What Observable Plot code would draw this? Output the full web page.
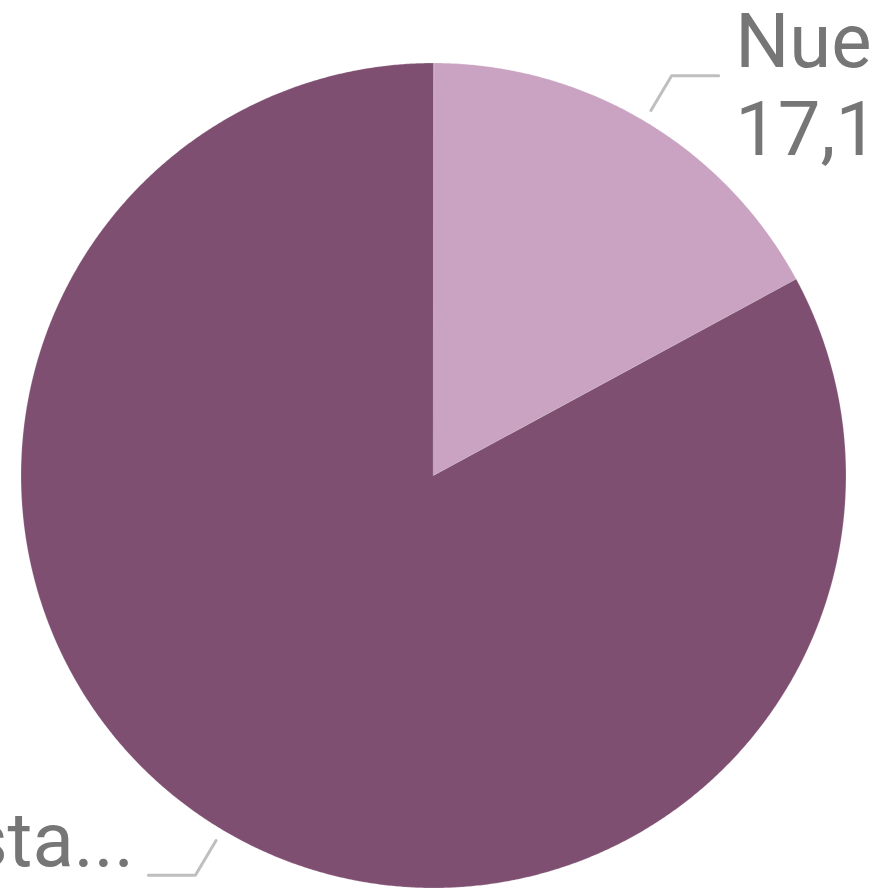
<!DOCTYPE html>
<html><head><meta charset="utf-8">
<script src="https://cdn.jsdelivr.net/npm/d3@7"></script>
<script src="https://cdn.jsdelivr.net/npm/@observablehq/plot@0.6"></script>
<style>html,body{margin:0;padding:0;background:#fff;overflow:hidden}</style>
</head><body><div id="chart"></div>
<script>
// Data
const categories = ["Nuevos", "Existentes en lista..."];
const values = [17.1, 82.9];
const valueLabels = ["17,1", "82,9"];
const colors = ["#C9A3C1", "#7E4F71"];

// Layout
const W = 870, H = 892;
const R = 412.5, CX = 433, CY = 475;

const pie = d3.pie().sort(null).value(d => d.value);
const arcs = pie(categories.map((c, i) => ({name: c, value: values[i], label: valueLabels[i]})));

const pt = (a, r) => ({x: r * Math.sin(a), y: r * Math.cos(a)});

const slicePts = [];
for (const s of arcs) {
  slicePts.push({name: s.data.name, x: 0, y: 0});
  const n = Math.max(2, Math.ceil((s.endAngle - s.startAngle) / 0.005));
  for (let k = 0; k <= n; k++) {
    const a = s.startAngle + (s.endAngle - s.startAngle) * k / n;
    slicePts.push({name: s.data.name, ...pt(a, 1)});
  }
}

const leaderPts = [];
const labelRows = [];
for (const s of arcs) {
  const m = (s.startAngle + s.endAngle) / 2;
  const right = Math.sin(m) >= 0;
  const p0 = pt(m, 1.03), p1 = pt(m, 1.128);
  const p2 = {x: p1.x + (right ? 0.114 : -0.114), y: p1.y};
  [p0, p1, p2].forEach(p => leaderPts.push({name: s.data.name, ...p}));
  labelRows.push({
    x: p2.x + (right ? 0.04 : -0.035), y: p2.y,
    text: s.data.name + "\n" + s.data.label,
    anchor: right ? "start" : "end"
  });
}

const textOpts = {x: "x", y: "y", text: "text", dy: 7, fill: "#767676", fontSize: 76, lineHeight: 1.158, fontFamily: "Roboto"};

const chart = Plot.plot({
  width: W, height: H,
  margin: 0,
  style: {background: "#fff", overflow: "hidden"},
  x: {domain: [-CX / R, (W - CX) / R], axis: null},
  y: {domain: [-(H - CY) / R, CY / R], axis: null},
  color: {domain: categories, range: colors},
  marks: [
    Plot.line(slicePts, {x: "x", y: "y", z: "name", fill: "name", stroke: "#ffffff", strokeWidth: 0.6, strokeOpacity: 0.35, curve: "linear-closed"}),
    Plot.line(leaderPts, {x: "x", y: "y", z: "name", stroke: "#BFBFBF", strokeWidth: 3, curve: "linear"}),
    Plot.text(labelRows.filter(d => d.anchor === "start"), {...textOpts, textAnchor: "start"}),
    Plot.text(labelRows.filter(d => d.anchor === "end"), {...textOpts, textAnchor: "end"})
  ]
});
document.getElementById("chart").appendChild(chart);
</script>
</body></html>
